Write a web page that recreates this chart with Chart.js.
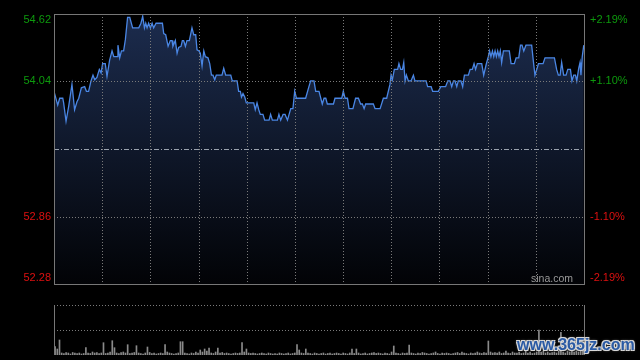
<!DOCTYPE html>
<html>
<head>
<meta charset="utf-8">
<script src="https://cdn.jsdelivr.net/npm/chart.js@4.4.1/dist/chart.umd.min.js"></script>
<style>
html, body { margin: 0; padding: 0; background: #000; }
#wrap { position: relative; width: 640px; height: 360px; overflow: hidden; background: #000; }
#price { position: absolute; left: 0; top: 0; }
#vol { position: absolute; left: 0; top: 290px; }
#mark {
    position: absolute; left: 517px; top: 336px;
    font: bold 16px "Liberation Sans", Arial, sans-serif; line-height: 18px;
    color: #2a5aa4;
    text-shadow: 1px 1px 0 #d8d8d8, -1px -1px 0 #d8d8d8, 1px -1px 0 #d8d8d8, -1px 1px 0 #d8d8d8, 0 0 3px #bbb;
}
</style>
</head>
<body>
<div id="wrap">
    <canvas id="price" width="640" height="290"></canvas>
    <canvas id="vol" width="640" height="70"></canvas>
    <div id="mark">www.365jz.com</div>
</div>
<script>
// intraday price (minute index, price)
const minutes = [
    0, 1.7, 2.6, 4.0, 4.4, 5.5, 6.7, 8.2, 9.4, 10.5,
    11.3, 12.5, 14.0, 14.8, 15.8, 16.9, 17.8, 18.6, 19.6, 20.7,
    21.5, 22.2, 23.4, 24.2, 25.4, 26.5, 27.3, 28.8, 29.2, 30.0,
    30.8, 31.8, 32.6, 33.6, 34.6, 35.9, 38.7, 39.7, 40.5, 41.3,
    41.9, 42.5, 43.2, 44.0, 44.8, 45.5, 46.6,
    49.5, 50.1, 51.0, 52.1, 53.1, 53.9, 54.3, 55.4, 56.2, 56.9,
    58.0, 58.6, 59.2, 60.0, 60.7, 61.8, 63.0, 63.8, 64.7, 65.3,
    66.2, 66.8, 67.6, 68.4, 69.1, 70.3, 71.1, 71.9, 72.6, 73.4,
    74.1, 76.7, 77.5, 78.4, 80.7, 81.4, 83.6, 84.3, 85.1, 85.6,
    86.3, 87.1, 87.8, 91.2, 91.9, 92.7, 93.5, 94.2, 95.4, 96.2,
    98.2, 98.9, 99.7, 102.0, 102.7, 103.5, 104.6, 105.5, 106.6, 108.1,
    109.1, 109.9, 110.7, 114.9, 116.4, 117.2, 118.7, 119.5, 121.0, 122.5,
    123.3, 124.1, 124.8, 127.6, 128.3, 131.4, 132.1, 132.9, 134.0, 134.7,
    136.5, 137.7, 139.0, 140.0, 140.8, 141.6, 142.3,
    145.8, 146.6, 148.9, 150.4, 151.9, 153.4, 153.9, 154.5, 155.4, 156.9,
    157.5, 158.3, 159.1, 159.7, 160.3, 160.9, 161.8, 163.0, 164.1, 164.8,
    169.9, 170.6, 172.2, 172.9, 175.5, 176.6, 178.8, 179.8, 180.8, 181.6,
    182.4, 183.1, 183.9, 184.6, 185.8, 186.6, 187.4, 189.2, 190.0, 191.0,
    191.8, 192.5, 193.3,
    195.3, 196.2, 197.3, 198.3, 198.9, 199.5, 200.2, 200.8, 201.4, 202.0,
    202.6, 203.2, 203.8, 204.4, 205.2, 207.9, 208.7, 210.2, 211.0, 212.2,
    213.0, 213.7, 214.5, 215.5, 218.1, 219.0, 219.6, 220.6, 221.2, 223.3,
    224.2, 228.5, 229.5, 230.3, 231.1, 231.8, 232.7, 233.8, 234.6, 235.8,
    236.5, 237.3, 238.1, 238.7, 239.6, 240.2, 240.6, 241.2, 241.9
];
const prices = [
    53.95, 53.83, 53.89, 53.89, 53.85, 53.69, 53.82, 54.01, 53.79, 53.86,
    53.89, 53.98, 53.99, 53.95, 53.95, 54.04, 54.09, 54.05, 54.07, 54.14,
    54.11, 54.19, 54.19, 54.08, 54.22, 54.30, 54.25, 54.25, 54.35, 54.24,
    54.30, 54.30, 54.40, 54.59, 54.59, 54.50, 54.50, 54.54, 54.60, 54.50,
    54.54, 54.50, 54.54, 54.50, 54.54, 54.50, 54.54,
    54.54, 54.45, 54.44, 54.34, 54.39, 54.39, 54.34, 54.39, 54.28, 54.33,
    54.34, 54.39, 54.39, 54.34, 54.39, 54.39, 54.50, 54.44, 54.44, 54.31,
    54.30, 54.28, 54.17, 54.30, 54.25, 54.24, 54.19, 54.09, 54.09, 54.05,
    54.09, 54.09, 54.15, 54.09, 54.09, 54.04, 54.04, 53.95, 53.95, 53.90,
    53.93, 53.90, 53.85, 53.85, 53.79, 53.85, 53.79, 53.75, 53.75, 53.70,
    53.70, 53.75, 53.70, 53.70, 53.75, 53.70, 53.75, 53.75, 53.70, 53.80,
    53.80, 53.95, 53.89, 53.89, 53.99, 54.04, 54.04, 53.95, 53.95, 53.84,
    53.89, 53.89, 53.84, 53.84, 53.89, 53.89, 53.95, 53.89, 53.89, 53.80,
    53.80, 53.89, 53.89, 53.84, 53.84, 53.80, 53.84,
    53.84, 53.80, 53.80, 53.89, 53.89, 54.01, 54.09, 54.05, 54.14, 54.14,
    54.19, 54.14, 54.14, 54.20, 54.04, 54.09, 54.04, 54.04, 54.09, 54.04,
    54.04, 53.99, 53.99, 53.95, 53.95, 53.99, 53.99, 54.04, 54.04, 53.99,
    54.04, 54.04, 53.99, 54.04, 54.04, 53.99, 54.09, 54.09, 54.14, 54.14,
    54.19, 54.14, 54.19,
    54.19, 54.09, 54.18, 54.25, 54.30, 54.25, 54.30, 54.25, 54.30, 54.25,
    54.30, 54.25, 54.30, 54.20, 54.30, 54.30, 54.19, 54.19, 54.24, 54.24,
    54.35, 54.35, 54.30, 54.35, 54.35, 54.19, 54.09, 54.15, 54.19, 54.19,
    54.24, 54.24, 54.14, 54.09, 54.09, 54.20, 54.09, 54.09, 54.14, 54.14,
    54.04, 54.09, 54.09, 54.04, 54.15, 54.20, 54.09, 54.25, 54.35
];

// volume per minute (arbitrary units)
const volumes = [
    166, 120, 300, 40, 30, 50, 40, 20, 50, 40,
    30, 40, 20, 30, 146, 40, 30, 60, 40, 50,
    30, 40, 246, 30, 40, 60, 286, 146, 40, 30,
    50, 60, 40, 206, 30, 40, 50, 186, 40, 30,
    20, 40, 160, 50, 30, 40, 20, 30, 40, 30,
    206, 60, 40, 30, 20, 30, 40, 266, 266, 40,
    30, 20, 40, 30, 60, 40, 100, 60, 120, 80,
    140, 40, 30, 60, 140, 40, 50, 30, 40, 30,
    20, 30, 40, 30, 40, 246, 60, 120, 40, 30,
    40, 30, 20, 30, 40, 30, 20, 40, 30, 20,
    30, 20, 40, 30, 20, 30, 40, 20, 30, 40,
    206, 100, 40, 30, 120, 40, 30, 20, 40, 30,
    20, 30, 40, 20, 30, 40, 20, 30, 40, 30,
    20, 40, 30, 20, 40, 120, 30, 120, 40, 20,
    30, 40, 20, 30, 40, 50, 30, 40, 30, 20,
    40, 30, 20, 60, 180, 40, 30, 20, 40, 30,
    40, 200, 40, 30, 20, 40, 30, 50, 40, 30,
    20, 30, 40, 60, 30, 20, 40, 30, 40, 30,
    20, 30, 40, 50, 30, 60, 40, 30, 20, 40,
    30, 40, 60, 40, 30, 50, 40, 280, 60, 40,
    50, 40, 60, 30, 40, 80, 40, 30, 60, 40,
    40, 60, 30, 40, 80, 40, 60, 30, 40, 60,
    500, 60, 80, 40, 60, 40, 50, 60, 40, 80,
    454, 60, 40, 80, 60, 100, 60, 80, 60, 120,
    200
];

const prevClose = 53.45;
const priceTicks = [54.62, 54.04, 52.86, 52.28];
const pctTicks = ['+2.19%', '+1.10%', '-1.10%', '-2.19%'];
const gridMinutes = [22, 44, 66, 88, 110, 132, 154, 176, 198, 220];

const GREEN = '#0d9a0d';
const RED = '#dd1010';
const FONT = '11px "Liberation Sans", Arial, sans-serif';

// grid, frame and axis labels for the price panel
const priceFrame = {
    id: 'priceFrame',
    afterDatasetsDraw(chart) {
        const { ctx, chartArea: a, scales: { x, y } } = chart;
        ctx.save();
        ctx.lineWidth = 1;
        ctx.strokeStyle = '#7a7a7a';
        ctx.setLineDash([1, 2]);
        gridMinutes.forEach(m => {
            const px = Math.round(x.getPixelForValue(m)) + 0.5;
            ctx.beginPath(); ctx.moveTo(px, a.top); ctx.lineTo(px, a.bottom); ctx.stroke();
        });
        [54.04, 52.86].forEach(v => {
            const py = Math.round(y.getPixelForValue(v)) + 0.5;
            ctx.beginPath(); ctx.moveTo(a.left, py); ctx.lineTo(a.right, py); ctx.stroke();
        });
        // previous close
        ctx.strokeStyle = '#9aa2ae';
        ctx.setLineDash([5, 2, 1, 2]);
        const pc = Math.round(y.getPixelForValue(prevClose)) + 0.5;
        ctx.beginPath(); ctx.moveTo(a.left, pc); ctx.lineTo(a.right, pc); ctx.stroke();

        // frame
        ctx.setLineDash([]);
        ctx.strokeStyle = '#777';
        ctx.strokeRect(Math.round(a.left) + 0.5, Math.round(a.top) + 0.5,
            Math.round(a.right - a.left), Math.round(a.bottom - a.top));

        // labels
        ctx.font = FONT;
        ctx.textBaseline = 'middle';
        priceTicks.forEach((v, i) => {
            let py = y.getPixelForValue(v);
            if (i === 0) py += 6;
            if (i === priceTicks.length - 1) py -= 6;
            ctx.fillStyle = v > prevClose ? GREEN : RED;
            ctx.textAlign = 'right';
            ctx.fillText(v.toFixed(2), a.left - 3, py);
            ctx.textAlign = 'left';
            ctx.fillText(pctTicks[i], a.right + 6, py);
        });

        ctx.fillStyle = '#9a9a9a';
        ctx.font = '10.5px "Liberation Sans", Arial, sans-serif';
        ctx.textAlign = 'right';
        ctx.fillText('sina.com', a.right - 11, a.bottom - 5);
        ctx.restore();
    }
};

new Chart(document.getElementById('price'), {
    type: 'line',
    data: {
        datasets: [{
            data: minutes.map((m, i) => ({ x: m, y: prices[i] })),
            borderColor: '#4a86e4',
            borderWidth: 1.3,
            pointRadius: 0,
            tension: 0,
            fill: 'start',
            backgroundColor: (c) => {
                const a = c.chart.chartArea;
                if (!a) return 'rgba(0,0,0,0)';
                const g = c.chart.ctx.createLinearGradient(0, a.top, 0, a.bottom);
                g.addColorStop(0, '#1c2c4e');
                g.addColorStop(1, '#020306');
                return g;
            }
        }]
    },
    options: {
        responsive: false,
        animation: false,
        layout: { padding: { left: 54, right: 56, top: 14, bottom: 6 } },
        plugins: { legend: { display: false }, tooltip: { enabled: false } },
        scales: {
            x: { type: 'linear', min: 0, max: 242, display: false },
            y: { min: 52.28, max: 54.62, display: false }
        }
    },
    plugins: [priceFrame]
});

// dotted guides and side lines for the volume panel
const volFrame = {
    id: 'volFrame',
    afterDatasetsDraw(chart) {
        const { ctx, chartArea: a, scales: { y } } = chart;
        ctx.save();
        ctx.lineWidth = 1;
        ctx.strokeStyle = '#7a7a7a';
        ctx.setLineDash([1, 2]);
        [y.max, y.max / 2].forEach(v => {
            const py = Math.round(y.getPixelForValue(v)) + 0.5;
            ctx.beginPath(); ctx.moveTo(a.left, py); ctx.lineTo(a.right, py); ctx.stroke();
        });
        ctx.setLineDash([]);
        ctx.strokeStyle = '#777';
        [a.left, a.right].forEach(x => {
            const px = Math.round(x) + 0.5;
            ctx.beginPath(); ctx.moveTo(px, a.top); ctx.lineTo(px, a.bottom); ctx.stroke();
        });
        ctx.restore();
    }
};

new Chart(document.getElementById('vol'), {
    type: 'bar',
    data: {
        labels: volumes.map((v, i) => i),
        datasets: [{ data: volumes, backgroundColor: '#8a8a8a', barThickness: 1 }]
    },
    options: {
        responsive: false,
        animation: false,
        layout: { padding: { left: 54, right: 56, top: 15, bottom: 5 } },
        plugins: { legend: { display: false }, tooltip: { enabled: false } },
        scales: {
            x: { display: false },
            y: { min: 0, max: 1000, display: false }
        }
    },
    plugins: [volFrame]
});
</script>
</body>
</html>
